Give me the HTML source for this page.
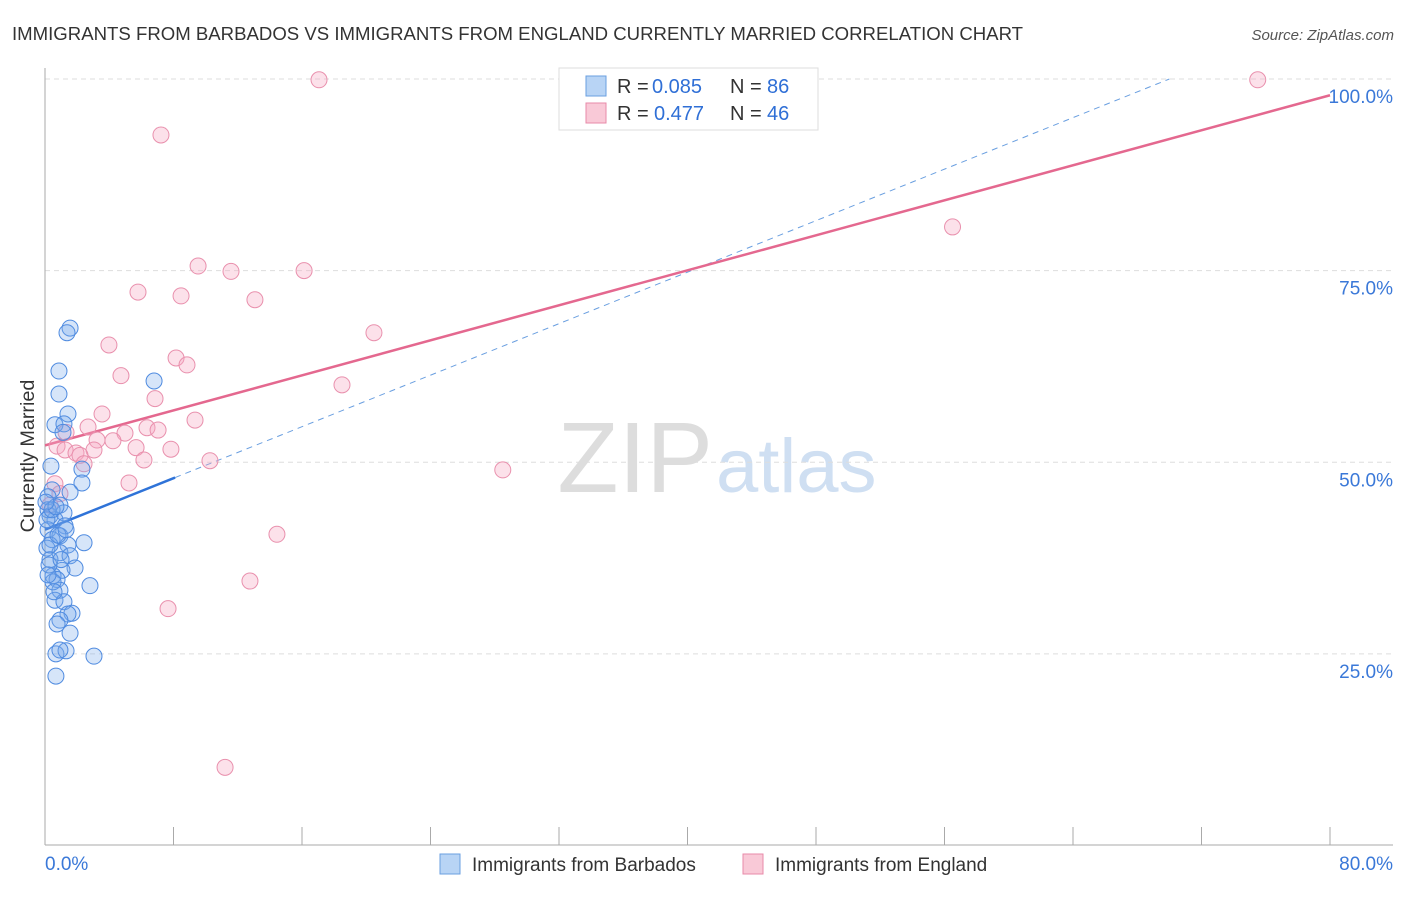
<!DOCTYPE html>
<html><head><meta charset="utf-8">
<style>
body{margin:0;background:#fff;font-family:"Liberation Sans",sans-serif;}
svg text{font-family:"Liberation Sans",sans-serif;}
</style></head>
<body>
<svg id="chart" width="1406" height="892" xmlns="http://www.w3.org/2000/svg">
<text x="12" y="40" font-size="18.6" fill="#333">IMMIGRANTS FROM BARBADOS VS IMMIGRANTS FROM ENGLAND CURRENTLY MARRIED CORRELATION CHART</text>
<text x="1394" y="40" font-size="15" fill="#555" font-style="italic" text-anchor="end">Source: ZipAtlas.com</text>
<text x="713" y="492" font-size="100" fill="#ddd" text-anchor="end" font-family="Liberation Serif">ZIP</text>
<text x="716" y="492" font-size="76" fill="#cfdff2">atlas</text>
<g id="grid"></g>
<g id="axes"></g>
<g id="trend"></g>
<g id="points"></g>
<text transform="translate(34,456) rotate(-90)" font-size="19.8" fill="#333" text-anchor="middle">Currently Married</text>
<g>
<rect x="559" y="68" width="259" height="62" fill="#fff" stroke="#ddd"/>
<rect x="586" y="76" width="20" height="20" fill="#b8d4f5" stroke="#6a9fe0"/>
<rect x="586" y="103" width="20" height="20" fill="#f9c9d7" stroke="#e88aa8"/>
<text x="617" y="93" font-size="20" fill="#333">R =</text>
<text x="652" y="93" font-size="20" fill="#2f6fd6">0.085</text>
<text x="730" y="93" font-size="20" fill="#333">N =</text>
<text x="767" y="93" font-size="20" fill="#2f6fd6">86</text>
<text x="617" y="120" font-size="20" fill="#333">R =</text>
<text x="654" y="120" font-size="20" fill="#2f6fd6">0.477</text>
<text x="730" y="120" font-size="20" fill="#333">N =</text>
<text x="767" y="120" font-size="20" fill="#2f6fd6">46</text>
</g>
<g>
<rect x="440" y="854" width="20" height="20" fill="#b8d4f5" stroke="#6a9fe0"/>
<text x="472" y="871" font-size="19" fill="#333">Immigrants from Barbados</text>
<rect x="743" y="854" width="20" height="20" fill="#f9c9d7" stroke="#e88aa8"/>
<text x="775" y="871" font-size="19" fill="#333">Immigrants from England</text>
</g>
</svg>
<script>
const blueX=[1.56,1.37,0.87,0.87,6.79,1.43,0.62,1.18,1.12,0.37,2.30,2.30,1.56,0.44,0.19,0.93,1.18,0.31,0.62,1.25,0.19,0.93,0.44,2.43,1.43,0.12,0.93,1.56,0.31,1.87,1.06,0.50,0.75,0.93,2.80,0.62,1.18,1.68,1.43,0.93,0.75,1.56,0.68,1.31,0.93,3.05,0.68,0.19,0.12,0.44,0.68,0.06,0.31,0.25,0.81,1.31,0.50,0.19,0.56,1.00];
const blueY=[67.5,66.9,61.9,58.9,60.6,56.3,54.9,55.0,53.9,49.5,49.1,47.3,46.1,46.4,45.5,44.4,43.4,43.0,42.5,41.7,41.2,40.4,39.9,39.5,39.2,38.8,38.2,37.8,37.3,36.2,35.9,35.2,34.7,33.3,33.9,32.0,31.8,30.3,30.2,29.4,28.9,27.7,25.0,25.4,25.5,24.7,22.1,43.8,42.5,43.8,44.2,44.8,39.2,36.6,40.5,41.2,34.4,35.3,33.1,37.3];
const pinkX=[17.06,75.5,7.22,56.5,9.53,11.58,16.13,5.79,8.47,13.07,20.48,3.98,8.16,8.84,4.73,18.49,6.85,3.55,9.34,2.68,6.35,7.04,1.31,0.75,4.98,4.23,3.24,5.67,7.84,3.05,1.25,1.93,2.18,6.16,10.27,2.43,28.5,5.23,0.62,14.44,12.76,7.66,11.21,0.93,0.31];
const pinkY=[99.9,99.9,92.7,80.7,75.6,74.9,75.0,72.2,71.7,71.2,66.9,65.3,63.6,62.7,61.3,60.1,58.3,56.3,55.5,54.6,54.5,54.2,53.9,52.1,53.8,52.8,52.9,51.9,51.7,51.6,51.6,51.2,50.9,50.3,50.2,49.8,49.0,47.3,47.2,40.6,34.5,30.9,10.2,45.9,44.4];
const yTicks=[25,50,75,100];
const yTickLabels=["25.0%","50.0%","75.0%","100.0%"];
const xTicks=[8,16,24,32,40,48,56,64,72,80];
const blueTrend=[41.2,0.84,8.1];   // intercept, slope, solid-end x
const pinkTrend=[52.2,0.571];
const NS="http://www.w3.org/2000/svg";
const sx=v=>45+v/80*1285;
const sy=v=>845.5-v/100*766.5;
function mk(tag,attrs,parent){const e=document.createElementNS(NS,tag);for(const k in attrs)e.setAttribute(k,attrs[k]);document.getElementById(parent).appendChild(e);return e;}
yTicks.forEach((t,i)=>{
 const l=mk('line',{x1:45,x2:1393,y1:sy(t),y2:sy(t),stroke:'#ddd','stroke-dasharray':'5,4'},'grid');
 
 
 const tx=mk('text',{x:1393,y:sy(t)+24,'font-size':19,fill:'#3a78d8','text-anchor':'end'},'grid');
 tx.textContent=yTickLabels[i];
 
 
});
let a=mk('line',{x1:45,x2:45,y1:68,y2:845,stroke:'#aaa'},'axes');


a=mk('line',{x1:45,x2:1393,y1:845,y2:845,stroke:'#aaa'},'axes');


xTicks.forEach(t=>{
 const l=mk('line',{x1:sx(t),x2:sx(t),y1:827,y2:845,stroke:'#aaa'},'axes');
 
 
});
let t0=mk('text',{x:45,y:870,'font-size':19,fill:'#3a78d8'},'axes');t0.textContent='0.0%';


let t1=mk('text',{x:1393,y:870,'font-size':19,fill:'#3a78d8','text-anchor':'end'},'axes');t1.textContent='80.0%';


const bx2=(100-blueTrend[0])/blueTrend[1];
let tl=mk('line',{x1:sx(blueTrend[2]),y1:sy(blueTrend[0]+blueTrend[1]*blueTrend[2]),x2:sx(bx2),y2:sy(100),stroke:'#6a9fe0','stroke-width':1,'stroke-dasharray':'6,5'},'trend');


tl=mk('line',{x1:sx(0),y1:sy(blueTrend[0]),x2:sx(blueTrend[2]),y2:sy(blueTrend[0]+blueTrend[1]*blueTrend[2]),stroke:'#2f73d8','stroke-width':2.5},'trend');


tl=mk('line',{x1:sx(0),y1:sy(pinkTrend[0]),x2:sx(80),y2:sy(pinkTrend[0]+pinkTrend[1]*80),stroke:'#e4688f','stroke-width':2.5},'trend');


pinkX.forEach((x,i)=>{
 const c=mk('circle',{cx:sx(x),cy:sy(pinkY[i]),r:8,fill:'rgba(246,170,195,0.35)',stroke:'#e990ad','stroke-width':1},'points');
 
 
});
blueX.forEach((x,i)=>{
 const c=mk('circle',{cx:sx(x),cy:sy(blueY[i]),r:8,fill:'rgba(120,170,235,0.3)',stroke:'#4f8be0','stroke-width':1},'points');
 
 
});
</script>
</body></html>
